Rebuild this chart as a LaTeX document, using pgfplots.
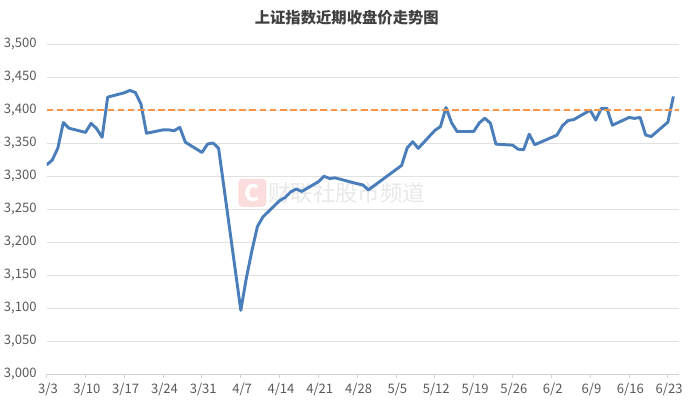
\documentclass[border=0pt]{standalone}
\usepackage{fontspec}
\setmainfont{Noto Sans CJK SC}
\usepackage{pgfplots}
\usepackage{pgfplotstable}
\pgfplotsset{compat=1.18}
\definecolor{lineblue}{RGB}{74,126,187}
\definecolor{dashorange}{RGB}{247,150,70}
\definecolor{gridgray}{RGB}{224,224,224}
\definecolor{axisgray}{RGB}{210,210,210}
\definecolor{labelgray}{RGB}{89,89,89}
\definecolor{titlegray}{RGB}{64,64,64}
\definecolor{wmpink}{RGB}{251,221,222}
\definecolor{wmgray}{RGB}{232,232,232}
\pgfplotstableread{
d v
0 3316.93
1 3324.21
2 3341.96
3 3381.10
4 3372.55
7 3366.16
8 3379.83
9 3371.92
10 3358.73
11 3419.56
14 3426.13
15 3429.76
16 3426.43
17 3408.95
18 3364.83
21 3370.03
22 3369.98
23 3368.70
24 3373.75
25 3351.31
28 3335.75
29 3348.44
30 3350.13
31 3342.01
35 3096.58
36 3145.55
37 3186.81
38 3223.64
39 3238.23
42 3262.81
43 3267.66
44 3276.00
45 3280.34
46 3276.73
49 3291.43
50 3299.76
51 3296.36
52 3297.29
53 3295.06
56 3288.41
57 3286.65
58 3279.03
64 3316.11
65 3342.67
66 3352.00
67 3342.00
70 3369.24
71 3374.87
72 3403.95
73 3380.82
74 3367.46
77 3367.58
78 3380.48
79 3387.57
80 3380.19
81 3348.37
84 3346.84
85 3340.69
86 3339.93
87 3363.45
88 3347.49
92 3361.98
93 3376.20
94 3384.10
95 3385.36
98 3399.77
99 3384.82
100 3402.32
101 3402.66
102 3377.00
105 3388.73
106 3387.40
107 3388.81
108 3362.11
109 3359.90
112 3381.58
113 3420.57
}\closedata
\begin{document}
\begin{tikzpicture}
\begin{axis}[
  scale only axis, width=474pt, height=247.5pt,
  xmin=0, xmax=114, ymin=3000, ymax=3500,
  xtick={0,7,...,112},
  xticklabels={3/3,3/10,3/17,3/24,3/31,4/7,4/14,4/21,4/28,5/5,5/12,5/19,5/26,6/2,6/9,6/16,6/23},
  ytick={3000,3050,...,3500},
  ymajorgrids, grid style={draw=gridgray, line width=0.6pt},
  axis x line*=bottom, axis y line*=left,
  x axis line style={draw=axisgray, line width=0.75pt, -},
  y axis line style={draw=none},
  xtick style={draw=axisgray, line width=0.75pt},
  ytick style={draw=none},
  tick align=outside, major tick length=3pt,
  tick label style={font=\fontsize{9.8}{11}\selectfont, text=labelgray},
  yticklabel style={xshift=-1pt},
  xticklabel style={xshift=1pt},
  /pgf/number format/assume math mode=true,
  /pgf/number format/.cd, fixed, 1000 sep={,},
]
\coordinate (SW) at (rel axis cs:0,0);
\coordinate (NE) at (rel axis cs:1,1);
\coordinate (NW) at (rel axis cs:0,1);
\node[fill=wmpink, rounded corners=3pt, minimum width=21pt, minimum height=21pt, inner sep=0pt, text=white, font=\bfseries\fontsize{17}{17}\selectfont] at (axis cs:37.1,3274.7) {C};
\node[anchor=west, inner sep=0pt, text=wmgray, font=\fontsize{16.8}{17}\selectfont] at (axis cs:39.9,3274.7) {财联社股市频道};
\addplot[color=lineblue, line width=2.2pt, line join=round, mark=none] table[x=d, y=v] {\closedata};
\addplot[color=dashorange, line width=1.4pt, dash pattern=on 5pt off 2.6pt, mark=none] coordinates {(0,3400) (114,3400)};
\end{axis}
\node[font=\bfseries\fontsize{11.5}{12}\selectfont, text=titlegray] at ([xshift=225pt,yshift=19.7pt]NW) {上证指数近期收盘价走势图};
\pgfresetboundingbox
\path[use as bounding box] ([xshift=-35pt,yshift=-24pt]SW) rectangle ([xshift=9.8pt,yshift=33pt]NE);
\end{tikzpicture}
\end{document}
